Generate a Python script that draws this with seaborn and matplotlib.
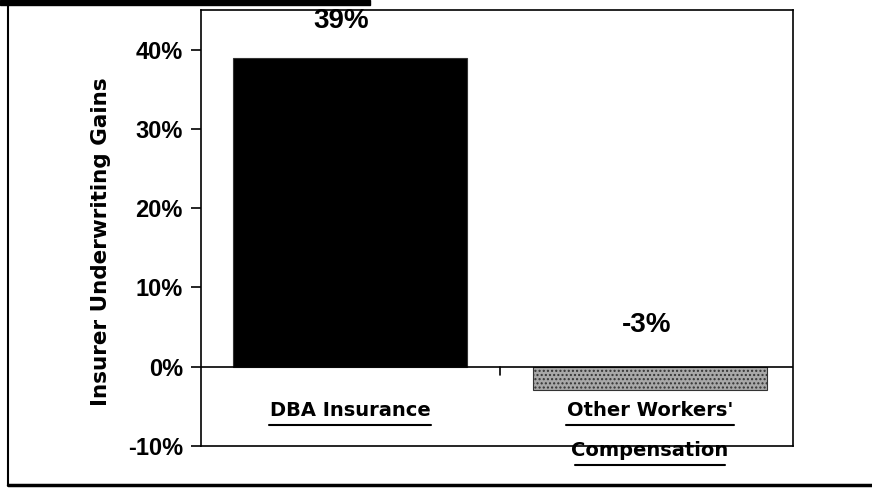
import matplotlib
matplotlib.use("Agg")
import matplotlib.pyplot as plt
import seaborn as sns
import pandas as pd
from matplotlib.lines import Line2D
from matplotlib.patches import Rectangle

categories = ["DBA Insurance", "Other Workers'\nCompensation"]
values = [39, -3]
value_labels = ["39%", "-3%"]
yticks = [-10, 0, 10, 20, 30, 40]
ytick_labels = ["-10%", "0%", "10%", "20%", "30%", "40%"]
ylabel = "Insurer Underwriting Gains"

sns.set_style("white")
plt.rcParams['font.family'] = ['Liberation Sans', 'DejaVu Sans']
plt.rcParams['text.color'] = 'black'
plt.rcParams['axes.labelcolor'] = 'black'
plt.rcParams['ytick.color'] = 'black'
plt.rcParams['xtick.color'] = 'black'

df = pd.DataFrame({"cat": categories, "val": values})

fig = plt.figure(figsize=(8.72, 4.88), dpi=100)
ax = fig.add_axes([0.2305, 0.0861, 0.6789, 0.8934])

sns.barplot(data=df, x="cat", y="val", hue="cat", palette=["#000000", "#a6a6a6"],
            width=0.78, ax=ax, legend=False, saturation=1)
for p, c in zip(ax.patches, ["#000000", "#a8a8a8"]):
    p.set_facecolor(c)
    p.set_edgecolor("#333333")
    p.set_linewidth(0.8)
ax.patches[1].set_hatch("....")

ax.set_ylim(-10, 45)
ax.set_xlim(-0.497, 1.477)
ax.set_yticks(yticks)
ax.set_yticklabels(ytick_labels, fontsize=17, fontweight="bold")
ax.tick_params(axis="y", length=7, width=1.2, direction="out", pad=6, left=True)
ax.set_xticks([])
ax.set_xlabel("")
ax.set_ylabel(ylabel, fontsize=15.5, fontweight="bold", family="DejaVu Sans")
ax.yaxis.set_label_coords(-0.152, 0.468)
for s in ax.spines.values():
    s.set_color("black")
    s.set_linewidth(1.2)

ax.axhline(0, color="black", lw=1.2)
ax.plot([0.5, 0.5], [0, -1.0], color="black", lw=1.2, clip_on=False)

# value labels
ax.text(-0.03, 43.6, value_labels[0], ha="center", va="center", fontsize=20, fontweight="bold")
ax.text(0.99, 5.3, value_labels[1], ha="center", va="center", fontsize=20, fontweight="bold")

# category labels with underline
lab_kw = dict(family="DejaVu Sans", fontsize=14, fontweight="bold", ha="center", va="center")
ax.text(0, -5.5, "DBA Insurance", **lab_kw)
ax.plot([-0.27, 0.27], [-7.4, -7.4], color="black", lw=1.5)
ax.text(1.0, -5.5, "Other Workers'", **lab_kw)
ax.plot([0.72, 1.28], [-7.4, -7.4], color="black", lw=1.5)
ax.text(1.0, -10.6, "Compensation", clip_on=False, **lab_kw)
ax.plot([0.75, 1.25], [-12.4, -12.4], color="black", lw=1.5, clip_on=False)

# outer frame
fig.add_artist(Line2D([8/872, 8/872], [1-6/488, 1-485/488], color="black", lw=1.5))
fig.add_artist(Line2D([8/872, 1], [1-485/488, 1-485/488], color="black", lw=2.5))
fig.add_artist(Rectangle((0, 1-5/488), 370/872, 5/488, color="black"))

fig.savefig("out.png", dpi=100)
